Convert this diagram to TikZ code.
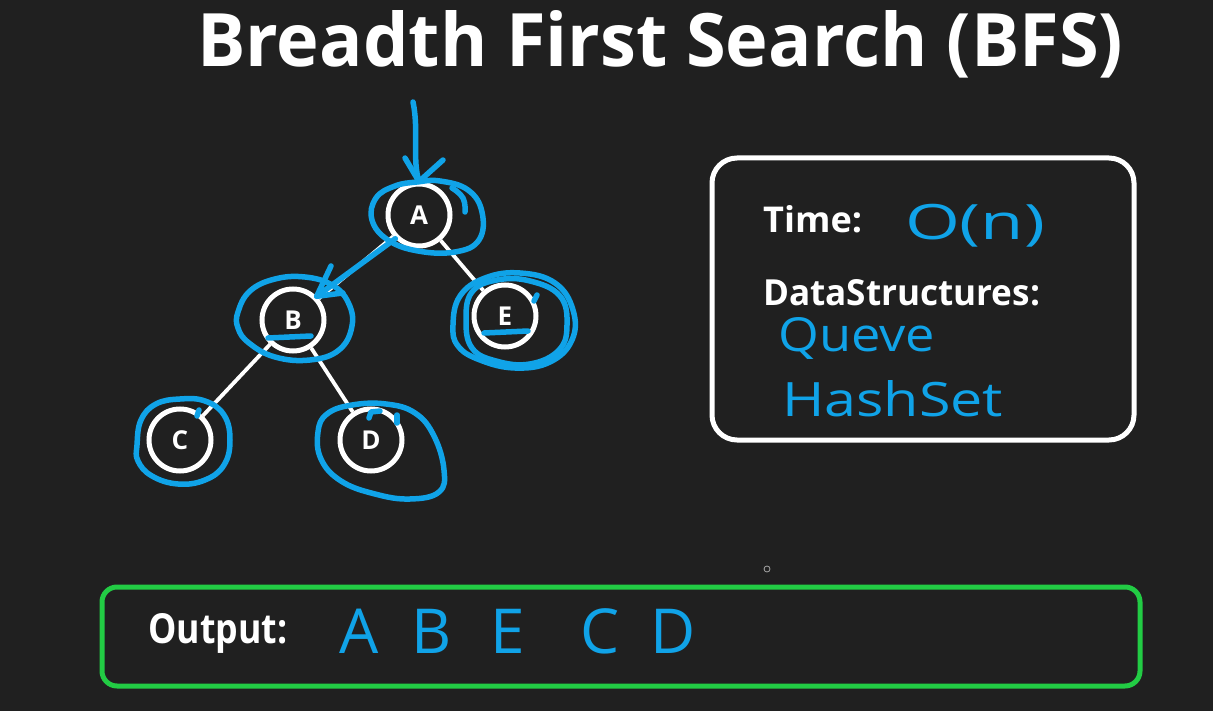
\documentclass[tikz,border=0pt]{standalone}
\usepackage{fontspec}
\setmainfont{Open Sans}
\usepackage{graphicx}
\definecolor{bg}{RGB}{32,32,32}
\definecolor{hand}{RGB}{16,163,232}
\definecolor{okgreen}{RGB}{34,204,68}
\tikzset{
  vertex/.style={circle, draw=white, line width=5pt, minimum size=62pt, inner sep=0pt, text=white, font=\bfseries\fontsize{26}{26}\selectfont},
  treeedge/.style={draw=white, line width=3.8pt},
  ink/.style={draw=hand, line width=5.5pt, line cap=round, line join=round},
  label/.style={inner sep=0pt, text=white},
  handtext/.style={inner sep=0pt, text=hand},
}
\begin{document}
\begin{tikzpicture}[x=1pt,y=-1pt]
\fill[bg] (0,0) rectangle (1213,711);
\useasboundingbox (0,0) rectangle (1213,711);

% title
\node[label, anchor=base west] (title) at (197,67) {\resizebox{926pt}{56pt}{\bfseries Breadth First Search (BFS)}};

% tree
\node[vertex] (A) at (419,215) {A};
\node[vertex] (B) at (293,320) {B};
\node[vertex] (E) at (505,316) {E};
\node[vertex] (C) at (180,440) {C};
\node[vertex] (D) at (371,440) {D};
\draw[treeedge] (A) -- (B);
\draw[treeedge] (A) -- (E);
\draw[treeedge] (B) -- (C);
\draw[treeedge] (B) -- (D);

% blue ink: start arrow
\coordinate (startA) at (413,102);
\draw[ink] (startA) .. controls (419,130) and (412,160) .. (A.north);
\draw[ink] (405,158) -- (A.north) -- (443,160);
% blue ink: A -> B
\draw[ink] (A.south west) -- (B.north east);
\draw[ink] (331,266) -- (B.north east) -- (343,293);

% loops
\draw[ink] plot[smooth cycle, tension=0.7] coordinates {(417,182) (440,181) (468,190) (482,212) (479,240) (455,252) (418,251) (388,240) (372,220) (376,198) (395,186)};
\draw[ink] plot[smooth, tension=0.8] coordinates {(452,188) (463,198) (465,212)};
\draw[ink] plot[smooth cycle, tension=0.7] coordinates {(238,312) (250,291) (275,279) (305,277) (332,285) (348,302) (352,326) (339,350) (310,360) (275,357) (249,343) (238,328)};
\draw[ink] (268,338) -- (311,336);
\draw[ink] plot[smooth cycle, tension=0.7] coordinates {(453,325) (460,296) (485,278) (520,273) (555,283) (573,310) (572,340) (550,362) (515,368) (480,360) (458,346)};
\draw[ink] plot[smooth cycle, tension=0.7] coordinates {(466,320) (472,292) (497,280) (530,281) (560,296) (567,325) (559,350) (530,364) (496,361) (472,348)};
\draw[ink] (484,333) -- (528,331);
\draw[ink] (534,301) -- (537,295);
\draw[ink] plot[smooth cycle, tension=0.7] coordinates {(137,445) (141,420) (156,404) (180,399) (205,401) (224,415) (230,440) (224,465) (205,480) (178,484) (152,476) (138,461)};
\draw[ink] (197,416) -- (199,410);
\draw[ink] plot[smooth cycle, tension=0.7] coordinates {(318,432) (327,414) (352,405) (386,404) (415,413) (434,436) (444,470) (439,492) (410,499) (375,494) (341,481) (321,459)};
\draw[ink] (369,418) -- (371,412) -- (380,411);
\draw[ink] (397,415) -- (397,423);

% right info box
\node[draw=white, line width=5pt, rounded corners=25pt, minimum width=422pt, minimum height=282pt, inner sep=0pt] (infobox) at (923,299) {};
\node[label, anchor=base west] (time) at (763,233) {\resizebox{99pt}{27pt}{\bfseries Time:}};
\node[handtext] (cplx) at (975,226) {\resizebox*{140pt}{43pt}{O(n)}};
\node[label, anchor=base west] (ds) at (763,306) {\resizebox{277pt}{26pt}{\bfseries DataStructures:}};
\node[handtext, anchor=base west] (queue) at (778,352) {\resizebox{157pt}{34pt}{Queve}};
\node[handtext, anchor=base west] (hashset) at (782,416) {\resizebox{221pt}{36pt}{HashSet}};

% cursor dot
\node[circle, draw=gray!70, line width=0.8pt, minimum size=6pt, inner sep=0pt] (cursor) at (767,569) {};

% output box
\node[draw=okgreen, line width=5pt, rounded corners=15pt, minimum width=1038pt, minimum height=99pt, inner sep=0pt] (outbox) at (621,636.5) {};
\node[label, anchor=base west] (outlabel) at (148,643) {\resizebox{139pt}{30pt}{\bfseries Output:}};
\begin{scope}[every node/.style={handtext, anchor=base, font=\fontsize{62}{62}\selectfont}]
\node (oA) at (359,653) {A};
\node (oB) at (432,653) {B};
\node (oE) at (508,653) {E};
\node (oC) at (600,653) {C};
\node (oD) at (673,653) {D};
\end{scope}
\end{tikzpicture}
\end{document}
